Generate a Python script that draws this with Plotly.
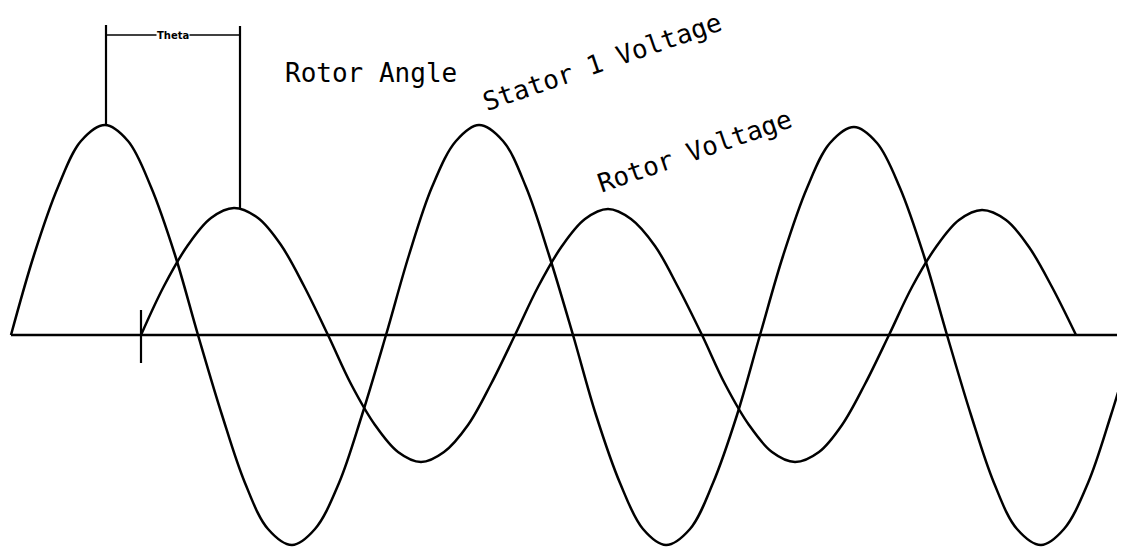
import plotly.graph_objects as go

# Stator 1 Voltage (large wave), read at sixteenth-period steps
stator_x = [11, 34, 58, 81, 105, 128, 151, 175, 198, 222, 245, 268, 292, 315, 339, 362,
            386, 409, 432, 456, 479, 503, 526, 549, 573, 596, 620, 643, 666, 690, 713, 737,
            760, 783, 807, 830, 854, 877, 900, 924, 947, 971, 994, 1017, 1041, 1064, 1088, 1111,
            1135]
stator_v = [0, 80, 148, 194, 210, 194, 148, 80, 0, -80, -148, -194, -210, -194, -148, -80,
            0, 80, 148, 194, 210, 194, 148, 80, 0, -80, -148, -194, -210, -194, -148, -80,
            0, 79, 147, 192, 208, 192, 147, 79, 0, -80, -148, -194, -210, -194, -148, -80,
            0]

# Rotor Voltage (smaller wave)
rotor_x = [141, 164, 188, 211, 234, 258, 281, 304, 328, 351, 375, 398, 421, 444, 468, 491,
           515, 538, 562, 585, 608, 631, 655, 678, 702, 725, 749, 772, 795, 819, 842, 865,
           889, 912, 936, 959, 982, 1006, 1029, 1052, 1076]
rotor_v = [0, 49, 90, 117, 127, 117, 90, 49, 0, -49, -90, -117, -127, -117, -90, -49,
           0, 48, 89, 116, 126, 116, 89, 48, 0, -49, -90, -117, -127, -117, -90, -49,
           0, 48, 88, 115, 125, 115, 88, 48, 0]

# Baseline and start tick
base_x = [11, 1135]
base_v = [0, 0]
tick_x = [141, 141]
tick_v = [25, -28]

# Theta bracket (peak to peak)
theta_left_x = [106, 106]
theta_left_v = [210, 310]
theta_right_x = [240, 240]
theta_right_v = [127, 309]
theta_bar_x = [106, 240]
theta_bar_v = [300, 300]

labels = ["Rotor Angle", "Stator 1 Voltage", "Rotor Voltage"]
label_x = [371, 602, 695]
label_v = [262, 273, 184]
label_angle = [0, -19, -19]

BLACK = "#000000"
fig = go.Figure()


def line(x, y, w=2.4, shape="linear"):
    fig.add_trace(go.Scatter(x=x, y=y, mode="lines",
                             line=dict(color=BLACK, width=w, shape=shape, smoothing=1.0),
                             hoverinfo="skip", showlegend=False))


line(base_x, base_v, 2.6)
line(tick_x, tick_v, 2.2)
line(stator_x, stator_v, 2.5, "spline")
line(rotor_x, rotor_v, 2.5, "spline")
line(theta_left_x, theta_left_v, 2.2)
line(theta_right_x, theta_right_v, 2.2)
line(theta_bar_x, theta_bar_v, 1.6)

for t, x, y, a in zip(labels, label_x, label_v, label_angle):
    fig.add_annotation(x=x, y=y, text=t, showarrow=False, textangle=a,
                       xanchor="center", yanchor="middle",
                       font=dict(family="DejaVu Sans Mono", size=26, color=BLACK))

fig.add_annotation(x=173, y=300, text="<b>Theta</b>", showarrow=False,
                   xanchor="center", yanchor="middle", bgcolor="white", borderpad=0,
                   font=dict(family="DejaVu Sans", size=10, color=BLACK))

# page has an 8px body margin; size the figure to fill the rest of the window
# and shift ranges so data units match page pixels
fig.update_layout(width=1117, height=542, margin=dict(l=0, r=0, t=0, b=0),
                  paper_bgcolor="white", plot_bgcolor="white", showlegend=False)
fig.update_xaxes(range=[8, 1125], visible=False, fixedrange=True)
fig.update_yaxes(range=[-215, 327], visible=False, fixedrange=True)

fig.write_html("out.html", config={"displayModeBar": False})
